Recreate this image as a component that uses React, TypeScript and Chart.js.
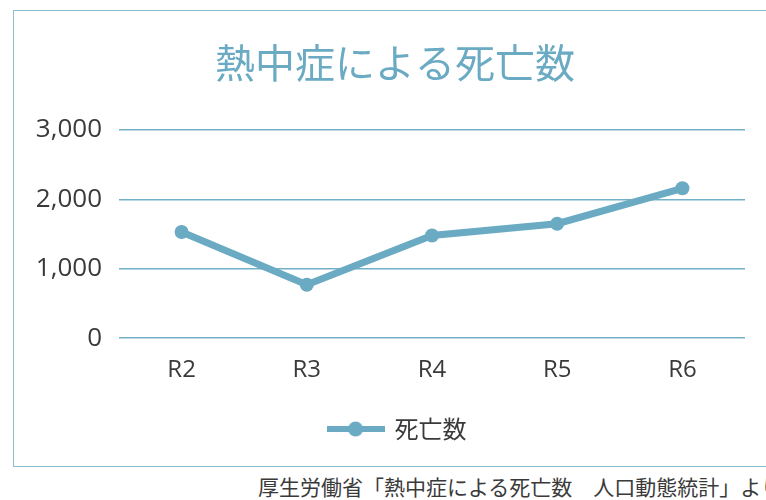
import React, { useEffect, useRef } from "react";
import { Chart, registerables } from "chart.js";

Chart.register(...registerables);

const title = "熱中症による死亡数";
const categories = ["R2", "R3", "R4", "R5", "R6"];
const seriesName = "死亡数";
const deaths = [1530, 770, 1480, 1650, 2160];
const yTicks = [0, 1000, 2000, 3000];
const source = "厚生労働省「熱中症による死亡数　人口動態統計」より";

const LINE = "#6aaac3";
const GRID = "#72b0c7";
const TEXT = "#3a3a3a";

function legendImage(): HTMLCanvasElement {
  const c = document.createElement("canvas");
  c.width = 58;
  c.height = 16;
  const ctx = c.getContext("2d")!;
  ctx.strokeStyle = LINE;
  ctx.lineWidth = 6;
  ctx.beginPath();
  ctx.moveTo(0, 8);
  ctx.lineTo(58, 8);
  ctx.stroke();
  ctx.fillStyle = LINE;
  ctx.beginPath();
  ctx.arc(29, 8, 7.5, 0, Math.PI * 2);
  ctx.fill();
  return c;
}

const centerShift = {
  id: "centerShift",
  afterLayout(chart: any) {
    if (chart.titleBlock) chart.titleBlock.left = 31;
    if (chart.legend) chart.legend.left = 36;
  },
};

export default function App() {
  const ref = useRef<HTMLCanvasElement>(null);
  useEffect(() => {
    document.body.style.overflow = "hidden";
    const img = legendImage();
    const chart = new Chart(ref.current!, {
      type: "line",
      data: {
        labels: categories,
        datasets: [
          {
            label: seriesName,
            data: deaths,
            borderColor: LINE,
            backgroundColor: LINE,
            borderWidth: 7,
            pointRadius: 7,
            pointBackgroundColor: LINE,
            pointBorderWidth: 0,
            tension: 0,
          },
        ],
      },
      plugins: [centerShift],
      options: {
        animation: false,
        responsive: false,
        layout: { padding: { left: 8, right: 33, top: 0, bottom: 15 } },
        plugins: {
          title: {
            display: true,
            text: title,
            color: LINE,
            font: { family: "'Noto Sans CJK JP'", size: 40, weight: "normal" },
            padding: { top: 28, bottom: 43 },
          },
          legend: {
            position: "bottom",
            labels: {
              usePointStyle: true,
              pointStyleWidth: 54,
              padding: 14,
              color: TEXT,
              font: { family: "'Noto Sans CJK JP'", size: 24 },
              generateLabels: () => [
                {
                  text: seriesName,
                  pointStyle: img as any,
                  fillStyle: LINE,
                  strokeStyle: LINE,
                  lineWidth: 0,
                  hidden: false,
                  datasetIndex: 0,
                  fontColor: TEXT,
                } as any,
              ],
            },
          },
          tooltip: { enabled: false },
        },
        scales: {
          x: {
            offset: true,
            grid: { display: false, drawTicks: false },
            border: { display: false },
            ticks: {
              color: TEXT,
              padding: 18,
              font: { family: "'Open Sans'", size: 24 },
            },
          },
          y: {
            min: 0,
            max: 3000,
            afterBuildTicks: (axis: any) => {
              axis.ticks = yTicks.map((v) => ({ value: v }));
            },
            afterFit: (axis: any) => {
              axis.width = 97;
            },
            grid: { color: GRID, lineWidth: 1.5, drawTicks: false },
            border: { display: false },
            ticks: {
              color: TEXT,
              padding: 17,
              font: { family: "'Open Sans'", size: 26 },
              callback: (v: any) => Number(v).toLocaleString("en-US"),
            },
          },
        },
      },
    });
    return () => chart.destroy();
  }, []);

  return (
    <div style={{ position: "absolute", left: 0, top: 0, width: 766, height: 500, overflow: "hidden", background: "#fff" }}>
      <div
        style={{
          position: "absolute",
          left: 13,
          top: 10,
          width: 766,
          height: 457,
          border: "1px solid #86bfd2",
          boxSizing: "border-box",
        }}
      >
        <canvas ref={ref} width={764} height={455} style={{ display: "block" }} />
      </div>
      <div
        style={{
          position: "absolute",
          left: 258,
          top: 473,
          whiteSpace: "nowrap",
          fontFamily: "'Noto Sans CJK JP'",
          fontSize: 21,
          lineHeight: "26px",
          color: TEXT,
        }}
      >
        {source}
      </div>
    </div>
  );
}
